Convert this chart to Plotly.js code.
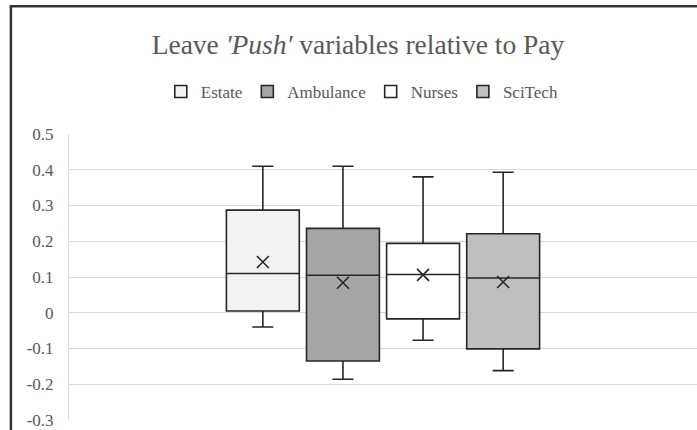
<!DOCTYPE html>
<html>
<head>
<meta charset="utf-8">
<script src="https://cdn.plot.ly/plotly-3.0.1.min.js"></script>
<style>
html,body{margin:0;padding:0;background:#fff;}
#chart{width:697px;height:430px;}
</style>
</head>
<body>
<div id="chart"></div>
<script>
const series = ['Estate', 'Ambulance', 'Nurses', 'SciTech'];
const fills = ['#f2f2f2', '#a6a6a6', '#ffffff', '#bfbfbf'];
const minVals = [-0.040, -0.186, -0.077, -0.162];
const q1Vals = [0.005, -0.135, -0.017, -0.101];
const medianVals = [0.110, 0.105, 0.107, 0.097];
const q3Vals = [0.287, 0.236, 0.194, 0.221];
const maxVals = [0.410, 0.410, 0.380, 0.393];
const meanVals = [0.142, 0.084, 0.106, 0.086];
const yTicks = [-0.3, -0.2, -0.1, 0, 0.1, 0.2, 0.3, 0.4, 0.5];
const yTickText = ['-0.3', '-0.2', '-0.1', '0', '0.1', '0.2', '0.3', '0.4', '0.5'];

const lineColor = '#262626';
const traces = [];
series.forEach((s, i) => {
  traces.push({
    type: 'box',
    name: s,
    x: [s],
    q1: [q1Vals[i]],
    median: [medianVals[i]],
    q3: [q3Vals[i]],
    lowerfence: [minVals[i]],
    upperfence: [maxVals[i]],
    fillcolor: fills[i],
    line: {color: lineColor, width: 1.6},
    whiskerwidth: 0.29,
    boxpoints: false,
    hoverinfo: 'skip'
  });
});
series.forEach((s, i) => {
  traces.push({
    type: 'scatter',
    mode: 'markers',
    x: [s],
    y: [meanVals[i]],
    showlegend: false,
    hoverinfo: 'skip',
    marker: {symbol: 'x-thin-open', size: 12, color: lineColor, line: {color: lineColor, width: 1.6}}
  });
});

const font = {family: '"Liberation Serif", "Times New Roman", serif', color: '#595959'};
const layout = {
  width: 697, height: 430,
  margin: {l: 69, r: 0, t: 134, b: 10, autoexpand: false},
  paper_bgcolor: '#ffffff', plot_bgcolor: '#ffffff',
  font: Object.assign({size: 17}, font),
  title: {text: "Leave <i>'Push'</i> variables relative to Pay", font: Object.assign({size: 27.5}, font),
          x: 0.5136, xanchor: 'center', y: 0.8977, yanchor: 'middle', yref: 'container'},
  showlegend: true,
  legend: {orientation: 'h', x: 0.467, xanchor: 'center', y: 1.147, yanchor: 'middle',
           font: Object.assign({size: 17}, font), traceorder: 'normal'},
  boxmode: 'overlay',
  boxgap: 0.09,
  boxgroupgap: 0,
  hovermode: false,
  xaxis: {type: 'category', categoryorder: 'array', categoryarray: series,
          range: [-2.42, 5.42], showticklabels: false, showgrid: false, zeroline: false, showline: false, fixedrange: true},
  yaxis: {range: [-0.3, 0.5], tickvals: yTicks, ticktext: yTickText, showgrid: true, gridcolor: '#d9d9d9', gridwidth: 1,
          zeroline: false, showline: true, linecolor: '#d9d9d9', linewidth: 1, ticks: '', ticklabelstandoff: 11,
          tickfont: Object.assign({size: 17}, font), fixedrange: true},
  shapes: [{type: 'rect', xref: 'paper', yref: 'paper', x0: -0.0925, x1: 1.2, y0: -0.2, y1: 1.4465,
            line: {color: '#333333', width: 2.5}, fillcolor: 'rgba(0,0,0,0)', layer: 'above'}]
};
Plotly.newPlot('chart', traces, layout, {displayModeBar: false, staticPlot: true});
</script>
</body>
</html>
